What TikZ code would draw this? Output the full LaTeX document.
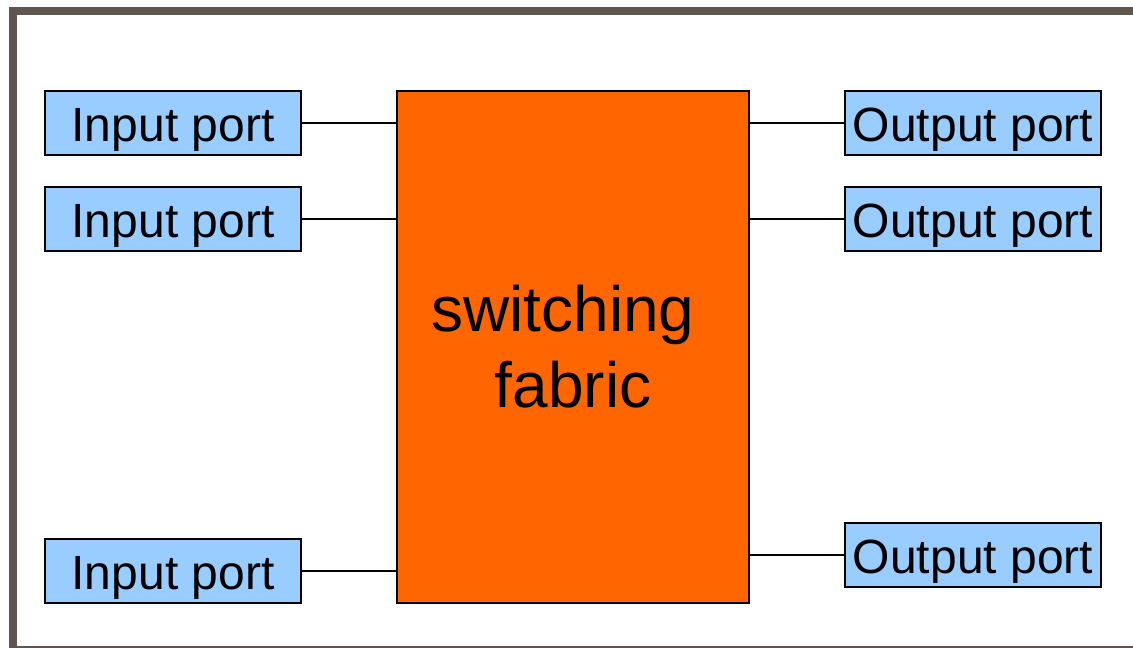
\documentclass[tikz,border=0pt]{standalone}
\usepackage{fontspec}
\setmainfont{Liberation Sans}
\definecolor{portblue}{HTML}{99CCFF}
\definecolor{fabricorange}{HTML}{FF6600}
\definecolor{framegray}{HTML}{5F574F}
\begin{document}
\begin{tikzpicture}[x=1pt,y=-1pt,
  port/.style={draw=black,line width=2pt,fill=portblue,minimum width=256pt,minimum height=64pt,inner sep=0pt,text height=47pt,text depth=10pt,font=\fontsize{48}{56}\selectfont},
  fabric/.style={draw=black,line width=2pt,fill=fabricorange,minimum width=352pt,minimum height=512pt,inner sep=0pt,align=center,font=\fontsize{64}{76}\selectfont},
  link/.style={draw=black,line width=2pt}]
\useasboundingbox (0,0) rectangle (1133,648);
\draw[framegray,line width=8pt] (13,648) -- (13,11) -- (1133,11);
\draw[framegray,line width=2pt] (13,647) -- (1133,647);
\node[fabric] (sw) at (573,347) {switching\hspace*{20pt}\\fabric};
\node[port] (i1) at (173,123) {Input port};
\node[port] (i2) at (173,218.5) {Input port};
\node[port] (i3) at (173,571) {Input port};
\node[port] (o1) at (973,123) {Output port};
\node[port] (o2) at (973,218.5) {Output port};
\node[port] (o3) at (973,555) {Output port};
\draw[link] (i1.east) -- (i1.east -| sw.west);
\draw[link] (i2.east) -- (i2.east -| sw.west);
\draw[link] (i3.east) -- (i3.east -| sw.west);
\draw[link] (o1.west -| sw.east) -- (o1.west);
\draw[link] (o2.west -| sw.east) -- (o2.west);
\draw[link] (o3.west -| sw.east) -- (o3.west);
\end{tikzpicture}
\end{document}
